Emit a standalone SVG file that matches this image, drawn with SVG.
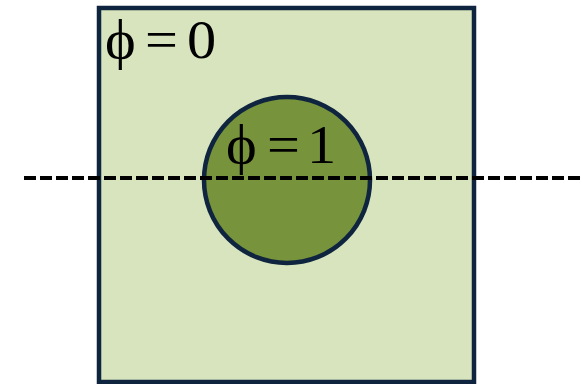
<svg xmlns="http://www.w3.org/2000/svg" width="583" height="384" viewBox="0 0 583 384">
<style>
.lbl{font-family:"Liberation Serif","DejaVu Serif",serif;font-size:54px;fill:#000}
.edge{stroke:#0F243E;stroke-width:4.5}
</style>
<rect width="583" height="384" fill="#FFFFFF"/>
<g id="domain">
<rect class="edge" x="99" y="8" width="375" height="374" fill="#D7E4BD"/>
<text class="lbl" transform="translate(105,58) scale(1.08,1)"><tspan x="0">ϕ</tspan><tspan x="37">=</tspan><tspan x="76">0</tspan></text>
</g>
<g id="inclusion">
<circle class="edge" cx="287" cy="180" r="83" fill="#77933C"/>
<text class="lbl" transform="translate(226,163) scale(1.08,1)"><tspan x="0">ϕ</tspan><tspan x="38">=</tspan><tspan x="75">1</tspan></text>
</g>
<g id="connectors">
<line x1="24" y1="178" x2="583" y2="178" stroke="#000" stroke-width="4" stroke-dasharray="12 4"/>
</g>
</svg>
